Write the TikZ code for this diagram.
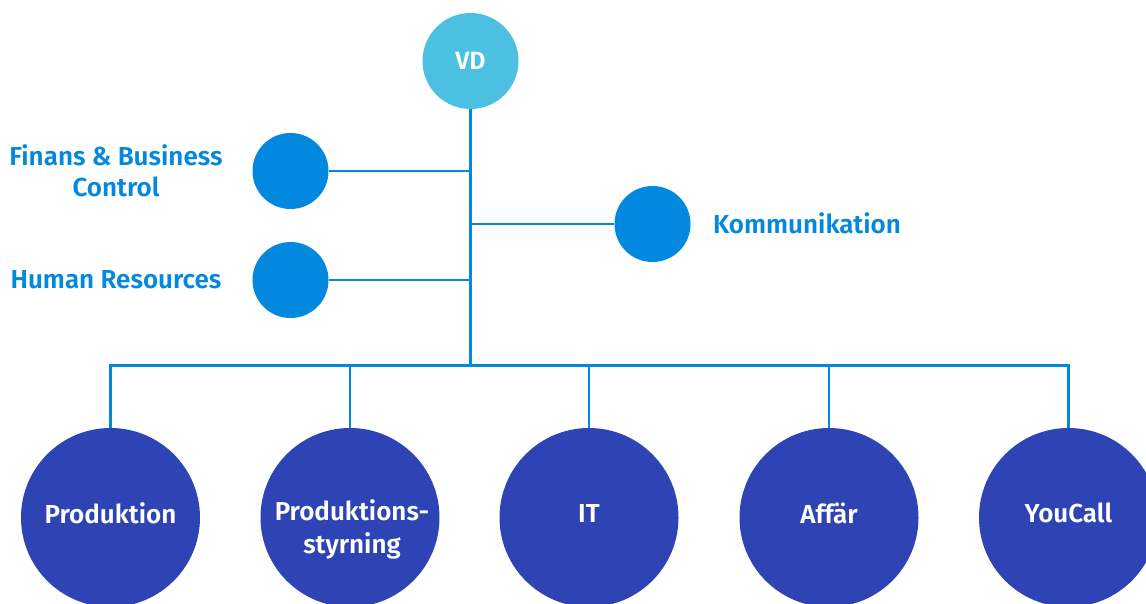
\documentclass[tikz,border=0pt]{standalone}
\usepackage{fontspec}
\setmainfont{Fira Sans}[BoldFont={Fira Sans SemiBold}]
\definecolor{vdblue}{RGB}{75,192,225}
\definecolor{midblue}{RGB}{2,137,223}
\definecolor{darkblue}{RGB}{46,68,180}
\begin{document}
\begin{tikzpicture}[x=1pt,y=-1pt,
  conn/.style={draw=midblue,line width=2.6pt},
  topnode/.style={circle,fill=vdblue,minimum size=96pt,inner sep=0pt,text=white,font=\bfseries\fontsize{25}{28}\selectfont},
  staffnode/.style={circle,fill=midblue,minimum size=76pt,inner sep=0pt},
  unitnode/.style={circle,fill=darkblue,minimum size=179pt,inner sep=0pt},
  unittext/.style={text=white,align=center,inner sep=0pt,font=\bfseries\fontsize{26}{33}\selectfont},
  lbl/.style={text=midblue,align=center,font=\bfseries\fontsize{26}{31}\selectfont,inner sep=0pt}]
\useasboundingbox (0,0) rectangle (1146,603);
\clip (0,0) rectangle (1146,603);
\fill[white] (0,0) rectangle (1146,603);
% nodes
\node[topnode] (vd) at (470.5,61) {VD};
\node[staffnode] (fin) at (290.5,171) {};
\node[staffnode] (hr) at (290.5,280) {};
\node[staffnode] (kom) at (652.5,224) {};
\node[lbl] (finl) at (116,171) {Finans \& Business\\Control};
\node[lbl] (hrl) at (116,280) {Human Resources};
\node[lbl,anchor=west] (koml) at (713,223) {Kommunikation};
\node[unitnode] (u1) at (110.5,517.5) {};
\node[unitnode] (u2) at (350,517.5) {};
\node[unitnode] (u3) at (589,517.5) {};
\node[unitnode] (u4) at (829,517.5) {};
\node[unitnode] (u5) at (1068.5,517.5) {};
\node[unittext] (t1) at (110.5,513) {Produktion};
\node[unittext] (t2) at (352,529.5) {Produktions-\\styrning};
\node[unittext] (t3) at (589,513) {IT};
\node[unittext] (t4) at (829,513) {Affär};
\node[unittext] (t5) at (1068.5,513) {YouCall};
% junctions
\coordinate (jfin) at (vd.center |- fin.center);
\coordinate (jhr) at (vd.center |- hr.center);
\coordinate (jkom) at (vd.center |- kom.center);
\coordinate (jbus) at (470.5,365.5);
% connectors
\draw[conn] (vd.south) -- (jbus);
\draw[conn] (fin.east) -- (jfin);
\draw[conn] (hr.east) -- (jhr);
\draw[conn] (jkom) -- (kom.west);
\draw[conn] (u1.north) -- (u1.north |- jbus) -- (u5.north |- jbus) -- (u5.north);
\draw[conn] (u2.north) -- (u2.north |- jbus);
\draw[conn] (u3.north) -- (u3.north |- jbus);
\draw[conn] (u4.north) -- (u4.north |- jbus);
\end{tikzpicture}
\end{document}
